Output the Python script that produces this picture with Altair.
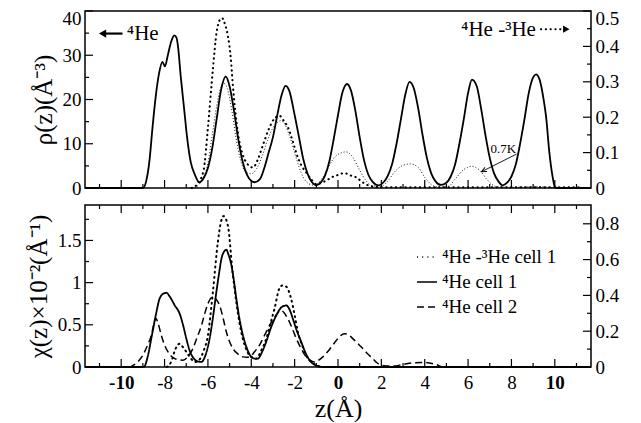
import altair as alt
import pandas as pd

FONT = "Liberation Serif"
XDOM = [-11.67, 11.67]
W, H1, H2 = 506, 177, 162
GAP = 17

# ---------------- data ----------------
# top panel, 4He density (left axis)
top_he4 = [(-11.67,0),(-9.0,0),(-8.85,1.5),(-8.7,6),(-8.55,14),(-8.4,21),(-8.25,26),(-8.1,28.5),(-7.98,27.5),
 (-7.85,30),(-7.7,33),(-7.55,34.5),(-7.45,34),(-7.38,32),(-7.25,25),(-7.1,18),(-6.95,11),(-6.8,6),(-6.6,3),
 (-6.4,1.3),(-6.2,2.2),(-6.0,4.5),(-5.8,9),(-5.6,15.5),(-5.4,22),(-5.18,25.2),(-5.0,23),(-4.8,17.5),(-4.6,11),
 (-4.4,6),(-4.2,3),(-4.0,1.6),(-3.85,1.3),(-3.6,2),(-3.4,4.5),(-3.2,8),(-3.0,11.5),(-2.8,16.5),(-2.6,21),
 (-2.42,23.1),(-2.25,22),(-2.0,16.5),(-1.8,11.5),(-1.6,6.5),(-1.4,3.2),(-1.2,1.3),(-1.0,0.6),(-0.8,1.2),
 (-0.6,2.8),(-0.4,6),(-0.2,11),(0.0,16.5),(0.2,21.5),(0.42,23.5),(0.6,22),(0.8,17.5),(1.0,11.5),(1.2,6.3),
 (1.4,3),(1.6,1.4),(1.88,0.6),(2.1,1.3),(2.3,2.8),(2.5,5.5),(2.7,10),(2.9,15.5),(3.1,21),(3.3,24),(3.5,22.5),
 (3.7,18),(3.9,12),(4.1,6.8),(4.3,3.3),(4.5,1.5),(4.75,0.7),(5.0,1.2),(5.2,2.6),(5.4,5.3),(5.6,10),(5.8,15.5),
 (6.0,21.5),(6.18,24.5),(6.4,23),(6.6,18),(6.8,12),(7.0,6.8),(7.2,3.3),(7.4,1.5),(7.6,0.6),(7.8,1.2),(8.0,2.6),
 (8.2,5.3),(8.4,10),(8.6,15.5),(8.8,21.5),(9.0,25),(9.13,25.7),(9.3,24.5),(9.5,19.5),(9.6,16),(9.75,8),
 (9.9,2.5),(10.0,0.3),(10.1,0),(11.67,0)]
# top panel, 4He-3He mixture (right axis), bold dots
top_mix = [(-6.75,0),(-6.5,0.01),(-6.2,0.05),(-6.0,0.17),(-5.77,0.336),(-5.6,0.44),(-5.45,0.475),(-5.35,0.48),
 (-5.2,0.46),(-5.08,0.43),(-4.95,0.37),(-4.85,0.29),(-4.62,0.157),(-4.4,0.095),(-4.23,0.072),(-3.93,0.058),
 (-3.7,0.08),(-3.47,0.12),(-3.2,0.165),(-2.95,0.195),(-2.7,0.204),(-2.5,0.19),(-2.31,0.171),(-2.1,0.135),
 (-1.93,0.10),(-1.7,0.065),(-1.47,0.044),(-1.2,0.022),(-1.0,0.011),(-0.75,0.015),(-0.54,0.021),(-0.3,0.03),
 (-0.08,0.035),(0.3,0.042),(0.6,0.035),(0.84,0.03),(1.1,0.018),(1.3,0.01),(1.6,0.004),(2.0,0.002),(11.2,0.002)]
# top panel, mixture at 0.7K (right axis), fine dots
top_mix07 = [(-6.6,0),(-6.3,0.02),(-6.0,0.07),(-5.8,0.15),(-5.6,0.23),(-5.4,0.285),(-5.25,0.295),(-5.1,0.28),
 (-4.9,0.22),(-4.7,0.14),(-4.5,0.08),(-4.25,0.045),(-4.0,0.04),(-3.75,0.055),(-3.5,0.09),(-3.25,0.135),
 (-3.0,0.17),(-2.8,0.185),(-2.62,0.19),(-2.45,0.18),(-2.25,0.15),(-2.0,0.10),(-1.8,0.06),(-1.6,0.03),
 (-1.35,0.012),(-1.1,0.008),(-0.9,0.015),(-0.6,0.04),(-0.3,0.075),(0.0,0.095),(0.38,0.102),(0.7,0.085),
 (1.0,0.05),(1.3,0.02),(1.6,0.006),(2.0,0.005),(2.3,0.02),(2.6,0.045),(3.0,0.064),(3.33,0.068),(3.7,0.058),
 (4.0,0.03),(4.3,0.01),(4.6,0.003),(5.1,0.005),(5.4,0.025),(5.8,0.052),(6.18,0.061),(6.5,0.052),(6.9,0.022),
 (7.3,0.004),(8.0,0.002),(9.1,0.004),(10.0,0)]
# bottom panel, 4He cell 1 (left axis)
bot_c1 = [(-11.67,0),(-8.95,0),(-8.8,0.1),(-8.61,0.34),(-8.4,0.62),(-8.23,0.81),(-8.05,0.87),(-7.92,0.88),
 (-7.75,0.83),(-7.53,0.73),(-7.3,0.63),(-7.15,0.5),(-7.0,0.34),(-6.85,0.2),(-6.65,0.1),(-6.45,0.065),(-6.3,0.06),
 (-6.1,0.15),(-5.92,0.34),(-5.75,0.62),(-5.61,0.89),(-5.48,1.12),(-5.38,1.28),(-5.25,1.37),(-5.15,1.39),
 (-5.05,1.33),(-4.92,1.21),(-4.8,1.02),(-4.69,0.81),(-4.55,0.58),(-4.39,0.38),(-4.2,0.22),(-4.0,0.12),
 (-3.85,0.1),(-3.7,0.1),(-3.5,0.18),(-3.31,0.3),(-3.1,0.46),(-2.85,0.61),(-2.6,0.71),(-2.39,0.73),(-2.2,0.66),
 (-2.08,0.57),(-1.9,0.43),(-1.7,0.3),(-1.5,0.17),(-1.31,0.08),(-1.1,0.03),(-0.93,0.01),(-0.7,0),(11.67,0)]
# bottom panel, 4He cell 2 (left axis)
bot_c2 = [(-11.67,0),(-9.6,0),(-9.45,0.02),(-9.2,0.07),(-9.0,0.14),(-8.8,0.25),(-8.61,0.376),(-8.5,0.5),
 (-8.41,0.58),(-8.3,0.52),(-8.15,0.376),(-8.0,0.26),(-7.84,0.18),(-7.7,0.13),(-7.53,0.10),(-7.35,0.085),
 (-7.15,0.08),(-6.9,0.13),(-6.69,0.22),(-6.5,0.35),(-6.3,0.49),(-6.15,0.63),(-6.0,0.75),(-5.88,0.81),
 (-5.77,0.83),(-5.62,0.8),(-5.46,0.73),(-5.3,0.58),(-5.15,0.415),(-5.0,0.3),(-4.85,0.22),(-4.6,0.15),
 (-4.39,0.12),(-4.2,0.115),(-4.08,0.12),(-3.85,0.18),(-3.62,0.26),(-3.4,0.37),(-3.16,0.49),(-2.9,0.6),
 (-2.62,0.67),(-2.45,0.63),(-2.31,0.57),(-2.1,0.45),(-1.93,0.34),(-1.7,0.22),(-1.47,0.12),(-1.25,0.075),
 (-1.08,0.06),(-0.9,0.08),(-0.7,0.12),(-0.45,0.19),(-0.24,0.26),(0.0,0.34),(0.3,0.395),(0.5,0.38),
 (0.68,0.336),(0.9,0.28),(1.14,0.22),(1.35,0.16),(1.6,0.10),(1.8,0.05),(1.99,0.02),(2.5,0.01),(3.0,0.03),
 (3.45,0.05),(3.99,0.055),(4.52,0.03),(4.85,0.0),(11.67,0)]
# bottom panel, 4He-3He cell 1 (right axis)
bot_mix = [(-7.9,0),(-7.69,0.03),(-7.5,0.1),(-7.3,0.13),(-7.15,0.11),(-6.99,0.084),(-6.8,0.05),(-6.61,0.028),
 (-6.4,0.04),(-6.2,0.09),(-6.0,0.177),(-5.77,0.42),(-5.54,0.70),(-5.4,0.81),(-5.28,0.843),(-5.15,0.82),
 (-5.05,0.77),(-4.88,0.55),(-4.69,0.363),(-4.55,0.25),(-4.39,0.158),(-4.2,0.09),(-4.08,0.065),(-3.78,0.046),
 (-3.55,0.09),(-3.31,0.158),(-3.1,0.25),(-2.93,0.325),(-2.7,0.44),(-2.55,0.456),(-2.4,0.45),(-2.16,0.38),
 (-2.0,0.29),(-1.85,0.195),(-1.65,0.12),(-1.47,0.065),(-1.2,0.025),(-1.0,0.01),(-0.7,0)]

S_MIX = "⁴He -³He cell 1"
S_C1 = "⁴He cell 1"
S_C2 = "⁴He cell 2"

x_major = [-10, -8, -6, -4, -2, 0, 2, 4, 6, 8, 10]
x_minor = [-11, -9, -7, -5, -3, -1, 1, 3, 5, 7, 9, 11]
top_l_major = [0, 10, 20, 30, 40]
top_l_minor = [5, 15, 25, 35]
top_r_major = [0, 0.1, 0.2, 0.3, 0.4, 0.5]
top_r_minor = [0.05, 0.15, 0.25, 0.35, 0.45]
bot_l_major = [0, 0.5, 1, 1.5]
bot_l_minor = [0.25, 0.75, 1.25, 1.75]
bot_r_major = [0, 0.2, 0.4, 0.6, 0.8]
bot_r_minor = [0.1, 0.3, 0.5, 0.7]

# annotations
ann_he4 = {"z": [-9.74], "v": [34.7], "t": ["⁴He"]}
arr_he4 = {"z": [-9.94], "z2": [-10.8], "v": [34.9]}
head_he4 = {"z": [-10.86], "v": [34.9]}
ann_mix = {"z": [9.13], "v": [35.7], "t": ["⁴He -³He"]}
arr_mix = {"z": [9.36], "z2": [10.3], "v": [35.9]}
head_mix = {"z": [10.53], "v": [35.9]}
ann_07 = {"z": [7.03], "v": [0.11], "t": ["0.7K"]}
arr_07 = {"z": [8.24], "z2": [6.62], "v": [0.096], "v2": [0.046]}
head_07 = {"z": [6.62], "v": [0.046]}

# ---------------- helpers ----------------
def pts(p, series=None):
    d = pd.DataFrame(p, columns=["z", "v"])
    if series is not None:
        d["s"] = series
    return d

xs = alt.Scale(domain=XDOM, nice=False, zero=False)
XT = "z(Å)"
bold_cond = {"condition": {"test": "datum.value == 0 || abs(datum.value) == 10", "value": "bold"},
             "value": "normal"}
x_axis_bot = alt.Axis(values=x_major, ticks=False, domain=False, grid=False,
                      labelExpr="'' + datum.value", labelFont=FONT, labelFontSize=19,
                      labelFontWeight=bold_cond, labelPadding=6, labelColor="black",
                      titleFont=FONT, titleFontSize=26, titleFontWeight="normal",
                      titlePadding=3, titleColor="black")

def yaxis(vals, orient, top_val=None):
    kw = dict(values=vals, orient=orient, ticks=False, domain=False, grid=False,
              labelExpr="'' + datum.value", labelFont=FONT, labelFontSize=19,
              labelColor="black", labelPadding=4,
              titleFont=FONT, titleFontSize=25, titleFontWeight="normal",
              titleColor="black", titlePadding=6)
    if top_val is not None:
        kw["labelBaseline"] = {"condition": {"test": f"datum.value == {top_val}", "value": "top"},
                               "value": "middle"}
        kw["labelOffset"] = {"condition": {"test": f"datum.value == {top_val}", "value": -1.5},
                             "value": 0}
    return alt.Axis(**kw)

def make_x(axis):
    def f(field):
        if axis is None:
            return alt.X(field, scale=xs, axis=None)
        return alt.X(field, scale=xs, axis=axis, title=XT)
    return f

def make_y(domain, axis, title):
    sc = alt.Scale(domain=domain, nice=False, zero=False)
    def f(field):
        if title is None:
            return alt.Y(field, scale=sc, axis=axis, title=None)
        return alt.Y(field, scale=sc, axis=axis, title=title)
    return f

def xticks(vals, y0, y1, X):
    return alt.Chart(pd.DataFrame({"t": vals})).mark_rule(
        color="black", strokeWidth=1.2
    ).encode(x=X("t:Q"), y=alt.value(y0), y2=alt.value(y1))

def yticks(vals, x0, x1, Y):
    return alt.Chart(pd.DataFrame({"t": vals})).mark_rule(
        color="black", strokeWidth=1.2
    ).encode(y=Y("t:Q"), x=alt.value(x0), x2=alt.value(x1))

def tick_set(Xf, H, YL, YR, lmaj, lmin, rmaj, rmin, top_edge):
    left = [xticks(x_major, H, H - 8, Xf), xticks(x_minor, H, H - 4, Xf),
            yticks(lmaj, 0, 8, YL), yticks(lmin, 0, 4, YL)]
    if top_edge:
        left += [xticks(x_major, 0, 8, Xf), xticks(x_minor, 0, 4, Xf)]
    right = [yticks(rmaj, W, W - 8, YR), yticks(rmin, W, W - 4, YR)]
    return left, right

# ---------------- top panel ----------------
X1 = make_x(None)
YL1 = make_y([0, 40], yaxis(top_l_major, "left", 40), "ρ(z)(Å⁻³)")
YR1 = make_y([0, 0.5], yaxis(top_r_major, "right", 0.5), None)

he4_line = alt.Chart(pts(top_he4)).mark_line(
    color="black", strokeWidth=1.8, interpolate="monotone"
).encode(x=X1("z:Q"), y=YL1("v:Q"))

mix_line = alt.Chart(pts(top_mix)).mark_line(
    color="black", strokeWidth=2.1, strokeDash=[0.3, 4.5], strokeCap="round", interpolate="monotone"
).encode(x=X1("z:Q"), y=YR1("v:Q"))

mix07_line = alt.Chart(pts(top_mix07)).mark_line(
    color="black", strokeWidth=0.9, strokeDash=[1, 2], interpolate="monotone"
).encode(x=X1("z:Q"), y=YR1("v:Q"))

t_he4 = alt.Chart(pd.DataFrame(ann_he4)).mark_text(
    align="left", baseline="middle", font=FONT, fontSize=21, color="black"
).encode(x=X1("z:Q"), y=YL1("v:Q"), text="t:N")
a_he4 = alt.Chart(pd.DataFrame(arr_he4)).mark_rule(color="black", strokeWidth=2.2).encode(
    x=X1("z:Q"), x2="z2:Q", y=YL1("v:Q"))
h_he4 = alt.Chart(pd.DataFrame(head_he4)).mark_point(
    shape="triangle-left", filled=True, size=70, color="black", opacity=1
).encode(x=X1("z:Q"), y=YL1("v:Q"))

t_mix = alt.Chart(pd.DataFrame(ann_mix)).mark_text(
    align="right", baseline="middle", font=FONT, fontSize=21, color="black"
).encode(x=X1("z:Q"), y=YL1("v:Q"), text="t:N")
a_mix = alt.Chart(pd.DataFrame(arr_mix)).mark_rule(
    color="black", strokeWidth=2, strokeDash=[0.3, 4.5], strokeCap="round"
).encode(x=X1("z:Q"), x2="z2:Q", y=YL1("v:Q"))
h_mix = alt.Chart(pd.DataFrame(head_mix)).mark_point(
    shape="triangle-right", filled=True, size=55, color="black", opacity=1
).encode(x=X1("z:Q"), y=YL1("v:Q"))

t_07 = alt.Chart(pd.DataFrame(ann_07)).mark_text(
    align="left", baseline="middle", font=FONT, fontSize=13, color="black"
).encode(x=X1("z:Q"), y=YR1("v:Q"), text="t:N")
a_07 = alt.Chart(pd.DataFrame(arr_07)).mark_rule(color="black", strokeWidth=0.9).encode(
    x=X1("z:Q"), x2="z2:Q", y=YR1("v:Q"), y2="v2:Q")
h_07 = alt.Chart(pd.DataFrame(head_07)).mark_point(
    shape="M -0.6 1.3 L 0 0 L 0.6 1.3", filled=False, size=60, angle=243,
    color="black", strokeWidth=0.9, opacity=1
).encode(x=X1("z:Q"), y=YR1("v:Q"))

tl, tr = tick_set(X1, H1, YL1, YR1, top_l_major, top_l_minor, top_r_major, top_r_minor, False)
top = alt.layer(
    alt.layer(he4_line, t_he4, a_he4, h_he4, t_mix, a_mix, h_mix, *tl),
    alt.layer(mix07_line, mix_line, t_07, a_07, h_07, *tr),
).resolve_scale(y="independent").properties(width=W, height=H1)

# ---------------- bottom panel ----------------
X2 = make_x(x_axis_bot)
YL2 = make_y([0, 1.92], yaxis(bot_l_major, "left"), "χ(z)×10⁻²(Å⁻¹)")
YR2 = make_y([0, 0.905], yaxis(bot_r_major, "right"), None)

dash_scale = alt.Scale(domain=[S_MIX, S_C1, S_C2], range=[[1, 4.2], [1, 0], [7, 4]])
leg = alt.Legend(title=None, orient="none", legendX=331, legendY=H1 + GAP + 41, symbolType="stroke",
                 symbolSize=400, symbolStrokeWidth=1.5, symbolStrokeColor="black",
                 labelFont=FONT, labelFontSize=19, labelColor="black", rowPadding=4,
                 padding=0, labelOffset=4)
SD = alt.StrokeDash("s:N", scale=dash_scale, legend=leg)

c1_line = alt.Chart(pts(bot_c1, S_C1)).mark_line(
    color="black", strokeWidth=1.8, interpolate="monotone"
).encode(x=X2("z:Q"), y=YL2("v:Q"), strokeDash=SD)
c2_line = alt.Chart(pts(bot_c2, S_C2)).mark_line(
    color="black", strokeWidth=1.5, interpolate="monotone"
).encode(x=X2("z:Q"), y=YL2("v:Q"), strokeDash=SD)
bmix_line = alt.Chart(pts(bot_mix, S_MIX)).mark_line(
    color="black", strokeWidth=2.0, strokeCap="round", interpolate="monotone"
).encode(x=X2("z:Q"), y=YR2("v:Q"), strokeDash=SD)

bl, br = tick_set(X2, H2, YL2, YR2, bot_l_major, bot_l_minor, bot_r_major, bot_r_minor, True)
bottom = alt.layer(
    alt.layer(c1_line, c2_line, *bl),
    alt.layer(bmix_line, *br),
).resolve_scale(y="independent").properties(width=W, height=H2)

chart = alt.vconcat(top, bottom, spacing=GAP, bounds="flush").properties(
    padding={"left": 17, "top": 0, "right": 5, "bottom": 0},
    background="white",
).configure_view(stroke="black", strokeWidth=1.5)

chart.save("out.html", embed_options={"renderer": "svg", "actions": False})
